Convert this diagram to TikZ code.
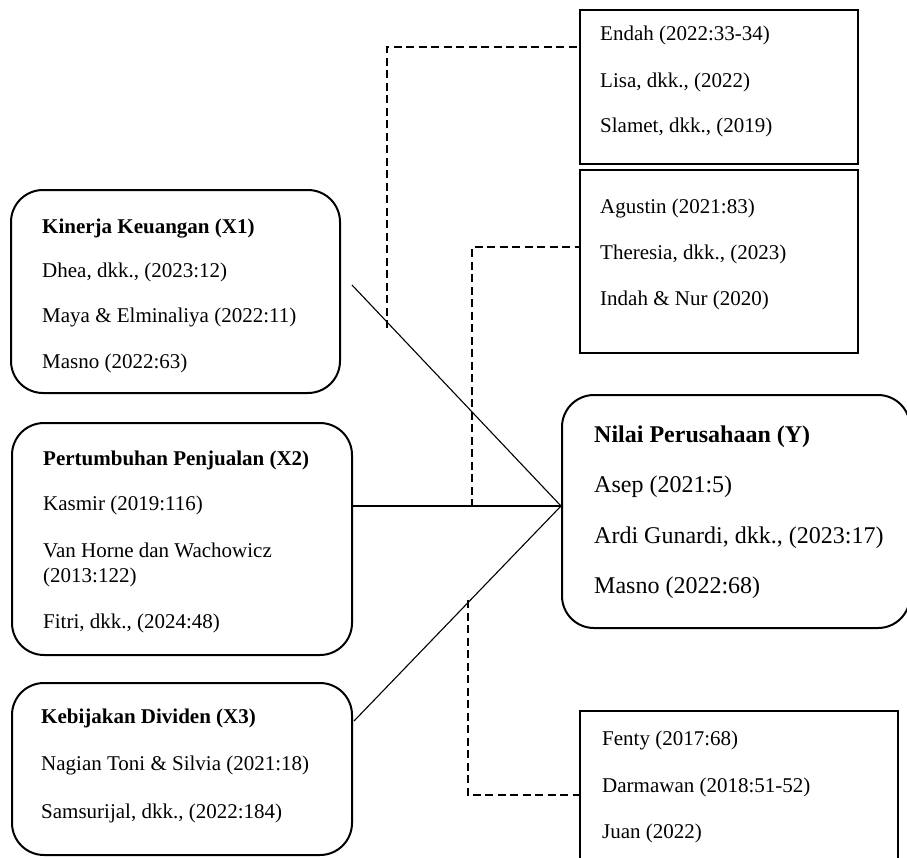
\documentclass[tikz,border=0pt]{standalone}
\usepackage{fontspec}
\setmainfont{Liberation Serif}
\begin{document}
\begin{tikzpicture}[x=1pt,y=-1pt,
  rbox/.style={draw, line width=2pt, rounded corners=32pt, inner sep=0pt},
  sbox/.style={draw, line width=1.3pt, inner sep=0pt},
  txt/.style={anchor=base west, inner sep=0pt, font=\fontsize{21}{25}\selectfont},
  ytxt/.style={anchor=base west, inner sep=0pt, font=\fontsize{24}{28}\selectfont},
  conn/.style={line width=1.1pt},
  dconn/.style={line width=1.8pt, dash pattern=on 8pt off 4.5pt}]
\useasboundingbox (0,0) rectangle (907,857);
% boxes
\node[rbox, minimum width=329pt, minimum height=203pt] (X1) at (175.5,291.5) {};
\node[rbox, minimum width=340pt, minimum height=232pt] (X2) at (182,539) {};
\node[rbox, minimum width=340pt, minimum height=172pt] (X3) at (182,769) {};
\node[rbox, minimum width=348pt, minimum height=233pt] (Y) at (736,511.5) {};
\node[sbox, minimum width=278pt, minimum height=154pt] (R1) at (719,87) {};
\node[sbox, minimum width=278pt, minimum height=183pt] (R2) at (719,261.5) {};
\node[sbox, minimum width=318pt, minimum height=170pt] (R3) at (739,796) {};
% texts X1
\node[txt] (x1a) at (42,233) {\bfseries Kinerja Keuangan (X1)};
\node[txt] (x1b) at (42,277) {Dhea, dkk., (2023:12)};
\node[txt] (x1c) at (42,322) {Maya \& Elminaliya (2022:11)};
\node[txt] (x1d) at (42,368) {Masno (2022:63)};
% texts X2
\node[txt] (x2a) at (43,465) {\bfseries Pertumbuhan Penjualan (X2)};
\node[txt] (x2b) at (43,510) {Kasmir (2019:116)};
\node[txt] (x2c) at (43,557) {Van Horne dan Wachowicz};
\node[txt] (x2d) at (43,582) {(2013:122)};
\node[txt] (x2e) at (43,628) {Fitri, dkk., (2024:48)};
% texts X3
\node[txt] (x3a) at (41,723) {\bfseries Kebijakan Dividen (X3)};
\node[txt] (x3b) at (41,770) {Nagian Toni \& Silvia (2021:18)};
\node[txt] (x3c) at (41,818) {Samsurijal, dkk., (2022:184)};
% texts Y
\node[ytxt] (ya) at (594,442) {\bfseries Nilai Perusahaan (Y)};
\node[ytxt] (yb) at (594,492) {Asep (2021:5)};
\node[ytxt] (yc) at (594,543) {Ardi Gunardi, dkk., (2023:17)};
\node[ytxt] (yd) at (594,593) {Masno (2022:68)};
% texts R1
\node[txt] (r1a) at (600,40) {Endah (2022:33-34)};
\node[txt] (r1b) at (600,87) {Lisa, dkk., (2022)};
\node[txt] (r1c) at (600,132) {Slamet, dkk., (2019)};
% texts R2
\node[txt] (r2a) at (600,213) {Agustin (2021:83)};
\node[txt] (r2b) at (600,259) {Theresia, dkk., (2023)};
\node[txt] (r2c) at (600,305) {Indah \& Nur (2020)};
% texts R3
\node[txt] (r3a) at (602,745) {Fenty (2017:68)};
\node[txt] (r3b) at (602,792) {Darmawan (2018:51-52)};
\node[txt] (r3c) at (602,838) {Juan (2022)};
% connector points
\path (Y.north west) ++(0,112) coordinate (yin);
\path (X1.north east) ++(11,96) coordinate (x1out);
\path (X2.north east) ++(0,84) coordinate (x2out);
\path (X3.north east) ++(1,39) coordinate (x3out);
\path (R1.north west) ++(0,38) coordinate (r1in);
\path (R2.north west) ++(0,78) coordinate (r2in);
\path (R3.north west) ++(0,85) coordinate (r3in);
\coordinate (d1s) at (387,328);
\coordinate (d2s) at (472,507);
\coordinate (d3s) at (468,600);
% solid connectors
\draw[conn] (x1out) -- (yin);
\draw[conn] (x2out) -- (yin);
\draw[conn] (x3out) -- (yin);
% dashed connectors
\draw[dconn] (d1s) |- (r1in);
\draw[dconn] (d2s) |- (r2in);
\draw[dconn] (d3s) |- (r3in);
\end{tikzpicture}
\end{document}
